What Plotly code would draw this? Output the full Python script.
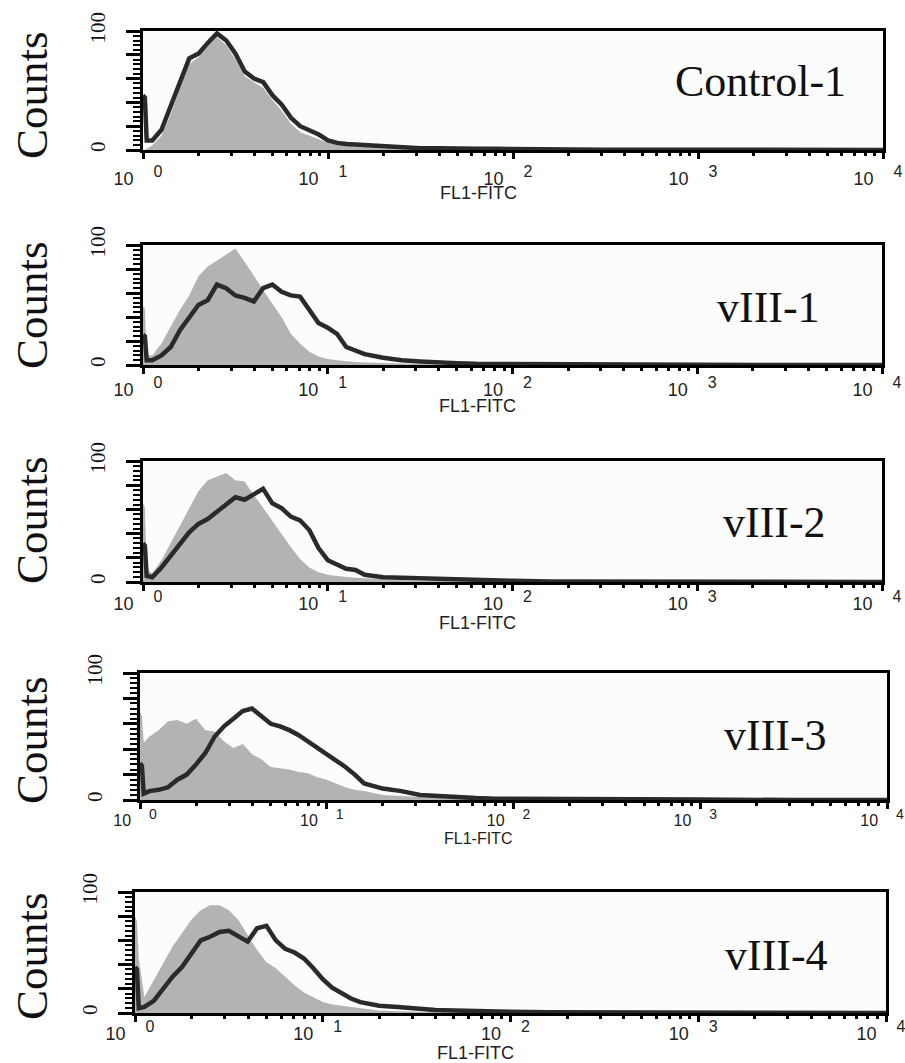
import plotly.graph_objects as go

W, H = 905, 1063

# channel positions in log10 units (FL1-FITC = 10**value)
LOG_CH = [0, 0.01, 0.02, 0.05, 0.10, 0.15, 0.20, 0.25, 0.30, 0.35, 0.40, 0.45, 0.50,
          0.55, 0.60, 0.65, 0.70, 0.75, 0.80, 0.85, 0.90, 0.95, 1.00, 1.05, 1.10, 1.15,
          1.20, 1.30, 1.40, 1.50, 1.60, 1.70, 1.80, 1.90, 2.00, 2.20, 2.50, 3.00, 3.50, 4.00]

PANEL_NAMES = ["Control-1", "vIII-1", "vIII-2", "vIII-3", "vIII-4"]

# black outline histograms (Counts)
CTRL1_LINE = [46, 44, 8, 8, 17, 36, 57, 77, 81, 90, 98, 92, 81, 66, 60, 57, 46, 38, 27, 20, 17, 13, 8,
              6, 5, 4.5, 4, 3, 2, 1.5, 1.5, 1, 1, 1, 0.8, 0.5, 0.3, 0.3, 0, 0]
V1_LINE = [25, 24, 4, 4, 8, 15, 29, 39, 50, 54, 67, 64, 58, 56, 53, 64, 67, 61, 58, 57, 46, 35, 31,
           26, 15, 12, 9, 6, 4, 3, 2, 1.5, 1, 1, 0.8, 0.5, 0.3, 0.2, 0, 0]
V2_LINE = [32, 30, 5, 4, 12, 22, 32, 41, 48, 52, 58, 64, 70, 68, 73, 77, 65, 61, 54, 51, 43, 28, 18,
           14, 11, 10, 6, 4, 3.5, 3, 2.5, 2, 1.5, 1, 1, 0.5, 0.4, 0.3, 0, 0]
V3_LINE = [29, 27, 5, 7, 8, 10, 16, 20, 28, 37, 50, 58, 64, 70, 72, 66, 60, 58, 55, 51, 46, 42, 37,
           32, 26, 20, 13, 9, 7, 4, 3, 2, 1.5, 1, 1, 0.5, 0.4, 0.3, 0, 0]
V4_LINE = [38, 36, 4, 5, 10, 20, 30, 38, 49, 60, 63, 67, 68, 64, 59, 70, 72, 60, 53, 50, 45, 37, 28,
           21, 16, 12, 9, 6, 5, 3.5, 2.5, 2, 1.5, 1, 1, 0.6, 0.4, 0.3, 0, 0]

# grey filled histograms (Counts)
CTRL1_FILL = [0, 0, 1, 4, 12, 30, 52, 72, 78, 88, 95, 88, 76, 62, 57, 52, 42, 33, 22, 15, 12, 9, 6,
              5, 4, 3, 3, 2, 1, 1, 0.8, 0.5, 0.5, 0.3, 0.3, 0, 0, 0, 0, 0]
V1_FILL = [49, 47, 8, 8, 18, 32, 46, 58, 74, 82, 87, 92, 97, 86, 74, 62, 51, 40, 26, 18, 11, 7, 5,
           4, 3, 2.5, 2, 1.5, 1, 0.8, 0.5, 0.5, 0.3, 0.3, 0.2, 0, 0, 0, 0, 0]
V2_FILL = [65, 62, 10, 7, 18, 32, 46, 61, 75, 84, 87, 90, 84, 83, 72, 61, 50, 39, 29, 19, 12, 8, 6,
           5, 4, 3.5, 3, 2, 1.5, 1, 0.8, 0.5, 0.4, 0.3, 0.2, 0, 0, 0, 0, 0]
V3_FILL = [70, 66, 45, 50, 55, 62, 63, 60, 64, 55, 54, 46, 41, 44, 36, 32, 26, 25, 24, 22, 21, 18, 16,
           13, 10, 8, 7, 4, 3, 2, 1.5, 1, 0.8, 0.5, 0.4, 0.2, 0, 0, 0, 0]
V4_FILL = [80, 76, 45, 13, 27, 41, 55, 66, 77, 85, 89, 89, 85, 77, 64, 52, 42, 37, 30, 23, 17, 13, 9,
           7, 6, 5, 4, 2, 1.5, 1, 0.8, 0.5, 0.4, 0.3, 0.2, 0, 0, 0, 0, 0]

LINES = [CTRL1_LINE, V1_LINE, V2_LINE, V3_LINE, V4_LINE]
FILLS = [CTRL1_FILL, V1_FILL, V2_FILL, V3_FILL, V4_FILL]

X_TICK_VALS = [1, 10, 100, 1000, 10000]
X_TICK_EXP = ["0", "1", "2", "3", "4"]
Y_TICK_VALS = [0, 20, 40, 60, 80, 100]
Y_TICK_TEXT = ["0", "", "", "", "", "100"]
X_TITLE = "FL1-FITC"
Y_TITLE = "Counts"

# layout (reference pixels)
BOXES = [(143, 883, 31, 150), (143, 882, 245, 365), (143, 882, 461, 582),
         (140, 887, 673, 800), (135, 886, 892, 1013)]
LABEL_POS = [(848, 82), (822, 308), (828, 522), (829, 735), (830, 955)]
COUNTS_Y = [95, 305, 520, 740, 956]
FITC_Y = [193, 406, 623, 838, 1053]
TICK_STANDOFF = [4, 0, -3, -2, -4]
TICK_SIZE = [18, 18, 18, 16, 18]
FITC_SIZE = [18, 18, 18, 16, 18]

MINOR_X = [m * 10 ** d for d in range(4) for m in range(2, 10)]

SERIF = "Liberation Serif, Times New Roman, serif"
SANS = "Liberation Sans, Arial, sans-serif"
FILL_COLOR = "#b3b3b3"
LINE_COLOR = "#2a2a2a"


def fx(p):
    return p / W


def fy(p):
    return 1 - p / H


xs = [10 ** v for v in LOG_CH]

fig = go.Figure()
annotations = []
layout = {}

for i in range(5):
    n = "" if i == 0 else str(i + 1)
    xa, ya = "x" + n, "y" + n
    x0, x1, y0, y1 = BOXES[i]
    ts = TICK_SIZE[i]
    tick_text = ["10&nbsp;&nbsp;&nbsp;&nbsp;<sup><span style='font-size:%dpx'>%s</span></sup>" % (ts - 2, e)
                 for e in X_TICK_EXP]
    fig.add_trace(go.Scatter(x=xs, y=FILLS[i], xaxis=xa, yaxis=ya, mode="lines",
                             line=dict(width=0, color=FILL_COLOR), fill="tozeroy",
                             fillcolor=FILL_COLOR, hoverinfo="skip", showlegend=False))
    fig.add_trace(go.Scatter(x=xs, y=LINES[i], xaxis=xa, yaxis=ya, mode="lines",
                             line=dict(width=4.5, color=LINE_COLOR), showlegend=False))
    layout["xaxis" + n] = dict(
        type="log", range=[0, 4], domain=[fx(x0), fx(x1)], anchor=ya, automargin=False,
        showline=True, linecolor="black", linewidth=3, mirror=True,
        showgrid=False, zeroline=False,
        tickmode="array", tickvals=X_TICK_VALS, ticktext=tick_text,
        ticks="outside", ticklen=6, tickwidth=3, tickcolor="black",
        ticklabelstandoff=TICK_STANDOFF[i], ticklabelshift=-5,
        ticklabeloverflow="allow",
        tickfont=dict(family=SANS, size=ts, color="#222"),
        minor=dict(tickmode="array", tickvals=MINOR_X, ticks="outside",
                   ticklen=3, tickwidth=3, tickcolor="black", showgrid=False),
    )
    layout["yaxis" + n] = dict(
        range=[0, 100], domain=[fy(y1), fy(y0)], anchor=xa, automargin=False,
        showline=True, linecolor="black", linewidth=3, mirror=True,
        showgrid=False, zeroline=False,
        tickmode="array", tickvals=Y_TICK_VALS, ticktext=Y_TICK_TEXT,
        ticks="outside", ticklen=14, tickwidth=3, tickcolor="black",
        tickangle=-90, ticklabelstandoff=13, ticklabeloverflow="allow",
        tickfont=dict(family=SERIF, size=21, color="#111"),
        minor=dict(tickmode="linear", tick0=0, dtick=4, ticks="outside",
                   ticklen=7, tickwidth=2, tickcolor="black", showgrid=False),
    )
    lx, ly = LABEL_POS[i]
    annotations.append(dict(text=PANEL_NAMES[i], xref="paper", yref="paper",
                            x=fx(lx), y=fy(ly), xanchor="right", yanchor="middle",
                            showarrow=False, font=dict(family=SERIF, size=44, color="#111")))
    annotations.append(dict(text=Y_TITLE, xref="paper", yref="paper",
                            x=fx(32), y=fy(COUNTS_Y[i]), xanchor="center", yanchor="middle",
                            textangle=-90, showarrow=False,
                            font=dict(family=SERIF, size=45, color="#111")))
    annotations.append(dict(text=X_TITLE, xref="paper", yref="paper",
                            x=fx(x0 + (x1 - x0) * 0.5 - 35), y=fy(FITC_Y[i]),
                            xanchor="center", yanchor="middle", showarrow=False,
                            font=dict(family=SANS, size=FITC_SIZE[i], color="#222")))

fig.update_layout(
    width=W, height=H, margin=dict(l=0, r=0, t=0, b=0, autoexpand=False),
    paper_bgcolor="white", plot_bgcolor="#fcfcfc",
    annotations=annotations, showlegend=False, **layout,
)

# remove the default page margin so the 905x1063 figure fills the window exactly
fig.write_html("out.html", config={"displayModeBar": False},
               post_script="document.body.style.margin='0';document.body.style.overflow='hidden';")
